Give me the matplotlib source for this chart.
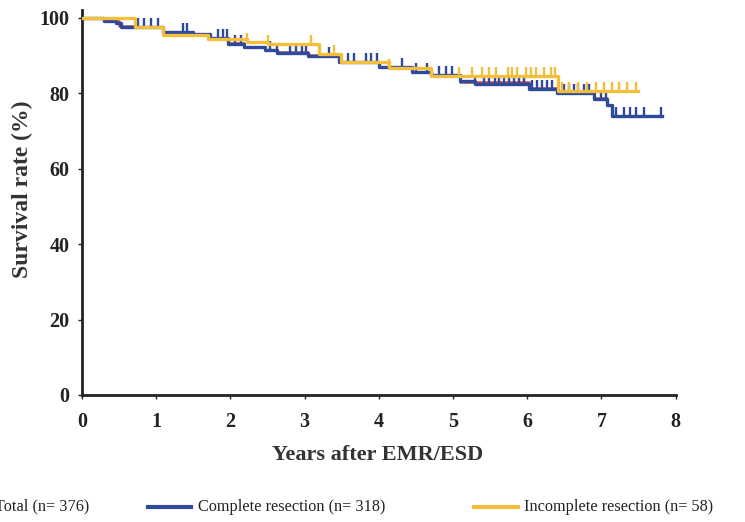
import numpy as np
import matplotlib
matplotlib.use("Agg")
import matplotlib.pyplot as plt
from matplotlib.lines import Line2D
from matplotlib.path import Path

plt.rcParams['font.family'] = ['Liberation Serif', 'DejaVu Serif']

# Kaplan-Meier steps: time of each drop (years) and survival (%) after it
complete_t = [0, 0.30, 0.46, 0.52, 1.09, 1.49, 1.72, 1.97, 2.19, 2.46, 2.63, 3.04,
              3.46, 4.00, 4.45, 4.70, 5.10, 5.30, 6.02, 6.40, 6.90, 7.07, 7.14]
complete_s = [100, 99.2, 98.6, 97.5, 96.4, 95.8, 94.6, 93.2, 92.3, 91.4, 90.8, 90.0,
              88.4, 87.0, 85.8, 84.8, 83.2, 82.5, 81.2, 80.0, 78.6, 76.8, 73.9]
complete_end = 7.82
complete_cens = [0.75, 0.84, 0.93, 1.02, 1.36, 1.42, 1.83, 1.90, 1.96, 2.06, 2.14,
                 2.54, 2.63, 2.80, 2.89, 2.96, 3.02, 3.33, 3.58, 3.67, 3.83, 3.90,
                 3.97, 4.31, 4.50, 4.65, 4.81, 4.90, 4.99, 5.30, 5.42, 5.49, 5.56,
                 5.62, 5.69, 5.75, 5.82, 5.89, 5.96, 6.06, 6.13, 6.20, 6.26, 6.33,
                 6.49, 6.56, 6.63, 6.69, 6.76, 6.83, 6.99, 7.06, 7.20, 7.30, 7.39,
                 7.47, 7.57, 7.80]

incomplete_t = [0, 0.71, 1.09, 1.70, 2.23, 2.50, 3.20, 3.49, 4.14, 4.70, 6.41]
incomplete_s = [100, 97.7, 95.5, 94.3, 93.7, 93.2, 90.5, 88.3, 86.8, 84.6, 80.5]
incomplete_end = 7.49
incomplete_cens = [2.23, 2.50, 3.09, 3.40, 4.14, 5.08, 5.25, 5.39, 5.48, 5.58, 5.74,
                   5.80, 5.86, 5.98, 6.05, 6.12, 6.22, 6.32, 6.38, 6.47, 6.56, 6.69,
                   6.80, 6.92, 7.03, 7.14, 7.23, 7.34, 7.46]

total_t = [0, 0.30, 0.50, 0.71, 1.09, 1.49, 1.72, 1.97, 2.19, 2.46, 2.63, 3.04, 3.20,
           3.46, 4.00, 4.45, 4.70, 5.10, 6.02, 6.40, 6.90, 7.07, 7.14]
total_s = [100, 99.2, 97.9, 97.5, 96.3, 95.8, 94.6, 93.3, 92.4, 91.5, 90.9, 90.1, 89.9,
           88.4, 87.0, 85.8, 84.8, 83.1, 81.3, 80.0, 78.7, 76.8, 74.0]
total_end = 7.82

labels = ['Total (n= 376)', 'Complete resection (n= 318)', 'Incomplete resection (n= 58)']
BLUE = '#2e4a9b'
YELLOW = '#f2be3c'
RED = '#c8453c'

tick_up = Path([(0, 0), (0, 1)], [Path.MOVETO, Path.LINETO])

fig = plt.figure(figsize=(7.45, 5.22), dpi=100)
ax = fig.add_axes([0.110, 0.2433, 0.797, 0.7367])


def km(t, s, end, cens, color, z, lw=2.4):
    tt = list(t) + [end]
    ss = list(s) + [s[-1]]
    ax.step(tt, ss, where='post', color=color, lw=lw, zorder=z)
    if cens is not None:
        idx = np.searchsorted(t, cens, side='right') - 1
        ax.plot(cens, np.array(s)[idx], ls='none', marker=tick_up, ms=13,
                mew=1.7, color=color, zorder=z)


km(total_t, total_s, total_end, None, RED, 2, lw=1.8)
km(complete_t, complete_s, complete_end, complete_cens, BLUE, 3)
km(incomplete_t, incomplete_s, incomplete_end, incomplete_cens, YELLOW, 4)

ax.set_xlim(0, 8)
ax.set_ylim(0, 102)
ax.spines['top'].set_visible(False)
ax.spines['right'].set_visible(False)
for sp in ('left', 'bottom'):
    ax.spines[sp].set_linewidth(2)
    ax.spines[sp].set_color('#222222')
ax.set_xticks(range(0, 9))
ax.set_yticks(range(0, 101, 20))
ax.tick_params(labelsize=14.5, length=3, width=1.0, colors='#222222')
ax.tick_params(axis='x', pad=9)
ax.tick_params(axis='y', pad=6)
for lab in ax.get_xticklabels() + ax.get_yticklabels():
    lab.set_fontweight('bold')
ax.set_xlabel('Years after EMR/ESD', fontsize=16, fontweight='bold', color='#333333')
ax.set_ylabel('Survival rate (%)', fontsize=17, fontweight='bold', color='#333333')
ax.xaxis.set_label_coords(0.498, -0.13)
ax.yaxis.set_label_coords(-0.0825, 0.536)

# legend row along the bottom, left entry runs off the page as in the scan
entries = [(-0.075, RED), (0.198, BLUE), (0.636, YELLOW)]
ly = 0.029
for (x0, col), lab in zip(entries, labels):
    fig.add_artist(Line2D([x0, x0 + 0.059], [ly, ly], color=col, lw=3,
                          transform=fig.transFigure))
    fig.text(x0 + 0.068, ly, lab, fontsize=11.7, va='center', ha='left', color='#222222')

fig.savefig('out.png', dpi=100)
